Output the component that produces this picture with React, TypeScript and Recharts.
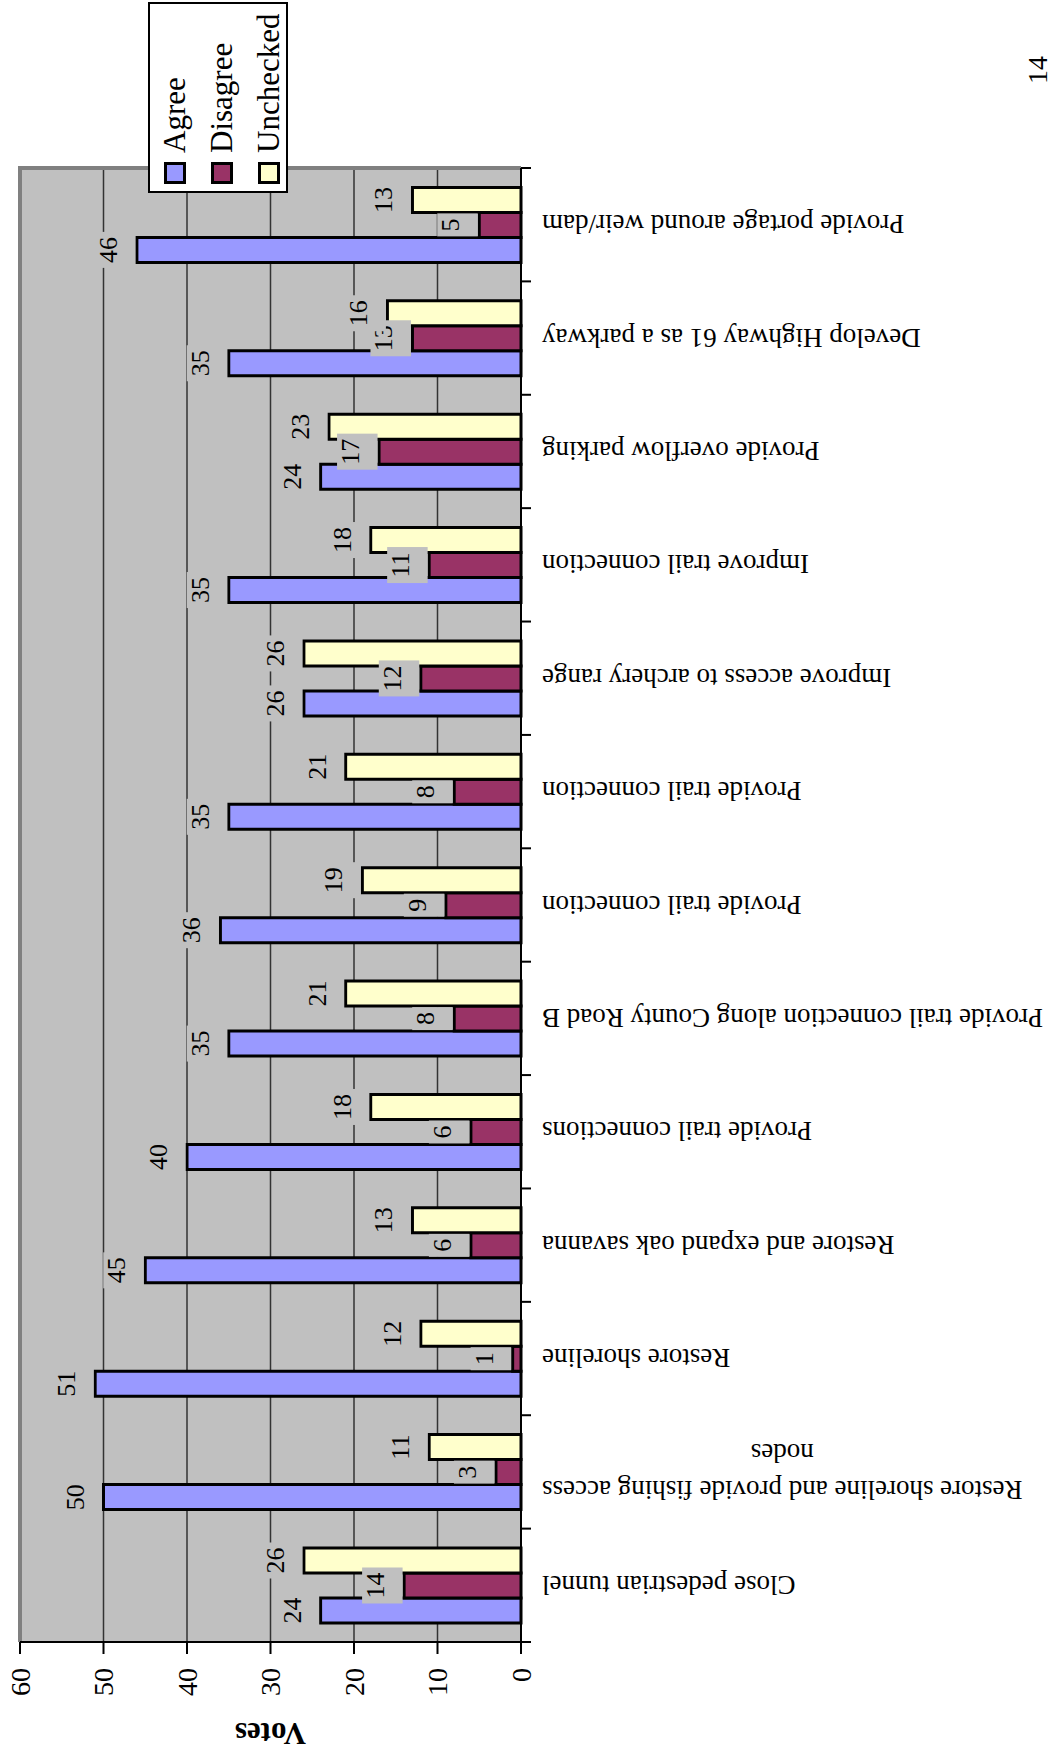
import React from "react"
import { BarChart, Bar, XAxis, YAxis, CartesianGrid, Legend, LabelList, ReferenceArea } from "recharts"

// survey results, one entry per project (left to right in the landscape chart)
const categories = [
  "Close pedestrian tunnel",
  "Restore shoreline and provide fishing access\nnodes",
  "Restore shoreline",
  "Restore and expand oak savanna",
  "Provide trail connections",
  "Provide trail connection along County Road B",
  "Provide trail connection",
  "Provide trail connection",
  "Improve access to archery range",
  "Improve trail connection",
  "Provide overflow parking",
  "Develop Highway 61 as a parkway",
  "Provide portage around weir/dam",
]
const agree = [24, 50, 51, 45, 40, 35, 36, 35, 26, 35, 24, 35, 46]
const disagree = [14, 3, 1, 6, 6, 8, 9, 8, 12, 11, 17, 13, 5]
const unchecked = [26, 11, 12, 13, 18, 21, 19, 21, 26, 18, 23, 16, 13]
const voteTicks = [0, 10, 20, 30, 40, 50, 60]

const data = categories.map((name, i) => ({
  id: i,
  name,
  agree: agree[i],
  disagree: disagree[i],
  unchecked: unchecked[i],
}))

// the page is printed sideways: the chart is drawn landscape, then turned
const W = 1752
const H = 1057
const FONT = "'Liberation Serif', 'Times New Roman', serif"
const PLOT_BG = "#C0C0C0"

let ctx: CanvasRenderingContext2D | null = null
function measure(s: string, size: number) {
  if (!ctx) ctx = document.createElement("canvas").getContext("2d")
  if (!ctx) return s.length * size * 0.45
  ctx.font = `${size}px 'Liberation Serif'`
  return ctx.measureText(s).width
}

function CategoryTick(props: any) {
  const { x, y, payload, index } = props
  const half = payload?.offset || 56.7
  const lines = categories[payload.value].split("\n")
  const size = 27
  const lineH = 37
  let labels
  if (lines.length === 1) {
    labels = (
      <text x={x} y={y} dy="0.35em" textAnchor="end" fontSize={size} fill="#000" fontFamily={FONT}
        transform={`rotate(-90 ${x} ${y})`}>
        {lines[0]}
      </text>
    )
  } else {
    const widest = Math.max(...lines.map((l) => measure(l, size)))
    const cy = y + widest / 2
    labels = lines.map((l, i) => {
      const lx = x + (i - (lines.length - 1) / 2) * lineH
      return (
        <text key={i} x={lx} y={cy} dy="0.35em" textAnchor="middle" fontSize={size} fill="#000"
          fontFamily={FONT} transform={`rotate(-90 ${lx} ${cy})`}>
          {l}
        </text>
      )
    })
  }
  return (
    <g>
      <line x1={x - half} x2={x - half} y1={y - 21} y2={y - 11} stroke="#000" strokeWidth={2} />
      {index === categories.length - 1 && (
        <line x1={x + half} x2={x + half} y1={y - 21} y2={y - 11} stroke="#000" strokeWidth={2} />
      )}
      {labels}
    </g>
  )
}

function ValueLabel(props: any) {
  const { x, y, width, value } = props
  const cx = x + width / 2
  const base = y - 20
  const tw = String(value).length * 13
  return (
    <g>
      <rect x={cx - tw / 2 - 5} y={base - 22} width={tw + 10} height={40.5} fill={PLOT_BG} />
      <text x={cx} y={base} textAnchor="middle" fontSize={26} fill="#000" fontFamily={FONT}>{value}</text>
    </g>
  )
}

function renderLegend(props: any) {
  const { payload } = props
  const items = (payload || []).filter((e: any) => e.type !== "none")
  return (
    <div style={{
      boxSizing: "border-box", width: 191, height: 140, border: "2px solid #000",
      background: "#fff", paddingTop: 1, fontFamily: FONT,
    }}>
      {items.map((entry: any) => (
        <div key={entry.value} style={{ display: "flex", alignItems: "center", height: 47 }}>
          <span style={{
            boxSizing: "border-box", display: "inline-block", width: 22, height: 22, marginLeft: 7,
            border: "3px solid #000", background: entry.color,
          }} />
          <span style={{ marginLeft: 9, fontSize: 31, lineHeight: "31px", color: "#000" }}>{entry.value}</span>
        </div>
      ))}
    </div>
  )
}

function PlotBorder(p: any) {
  // only the top and right edges; the other two are the axes
  return (
    <path d={`M${p.x},${p.y} H${p.x + p.width} V${p.y + p.height}`}
      fill="none" stroke="#808080" strokeWidth={4} />
  )
}

const series = [
  { key: "agree", name: "Agree", color: "#9999FF" },
  { key: "disagree", name: "Disagree", color: "#993366" },
  { key: "unchecked", name: "Unchecked", color: "#FFFFCC" },
]

export default function App() {
  return (
    <div style={{
      position: "absolute", left: 0, top: 0, width: 1057, height: 1752,
      overflow: "hidden", background: "#fff",
    }}>
      <div style={{
        position: "absolute", left: 0, top: 0, width: W, height: H,
        transformOrigin: "0 0", transform: `translateY(${W}px) rotate(-90deg)`,
        fontFamily: FONT,
      }}>
        <BarChart width={W} height={H} data={data} barGap={0} barSize={25}
          margin={{ top: 20, right: 168, bottom: 0, left: 20 }}>
          <CartesianGrid vertical={false} stroke="#333" strokeWidth={1.5} fill={PLOT_BG} fillOpacity={1} />
          <ReferenceArea y1={0} y2={60} shape={<PlotBorder />} />
          <XAxis dataKey="id" type="category" height={536} interval={0}
            tickSize={9} tickMargin={12} tickLine={false}
            axisLine={{ stroke: "#000", strokeWidth: 2 }}
            tick={<CategoryTick />} />
          {/* twin axis so the value labels are painted above every bar */}
          <XAxis xAxisId="labels" dataKey="id" type="category" hide />
          <YAxis width={90} domain={[0, 60]} ticks={voteTicks} interval={0}
            tickSize={12} tickMargin={14}
            axisLine={{ stroke: "#000", strokeWidth: 2 }}
            tickLine={{ stroke: "#000", strokeWidth: 2 }}
            tick={{ fontSize: 28, fill: "#000", fontFamily: FONT }}
            label={{
              content: (lp: any) => {
                const vb = lp.viewBox || { x: 20, y: 20, height: 501 }
                const cx = vb.x - 2
                const cy = vb.y + vb.height / 2
                return (
                  <text x={cx} y={cy} dy="0.35em" textAnchor="middle" fontSize={31} fontWeight="bold"
                    fill="#000" fontFamily={FONT} transform={`rotate(-90 ${cx} ${cy})`}>
                    Votes
                  </text>
                )
              },
            }} />
          <Legend layout="vertical" align="center" verticalAlign="middle" content={renderLegend}
            wrapperStyle={{ left: 1559, top: 148, width: 191, height: 140 }} />
          {series.map((s) => (
            <Bar key={s.key} dataKey={s.key} name={s.name} fill={s.color} stroke="#000" strokeWidth={3}
              barSize={25} isAnimationActive={false} />
          ))}
          {series.map((s) => (
            <Bar key={`lbl-${s.key}`} xAxisId="labels" dataKey={s.key} name={`${s.name} `} legendType="none"
              fill="none" stroke="none" barSize={25} isAnimationActive={false}>
              <LabelList dataKey={s.key} content={<ValueLabel />} />
            </Bar>
          ))}
        </BarChart>
        <div style={{ position: "absolute", left: 1668, top: 1022, fontSize: 28, lineHeight: "32px" }}>14</div>
      </div>
    </div>
  )
}
